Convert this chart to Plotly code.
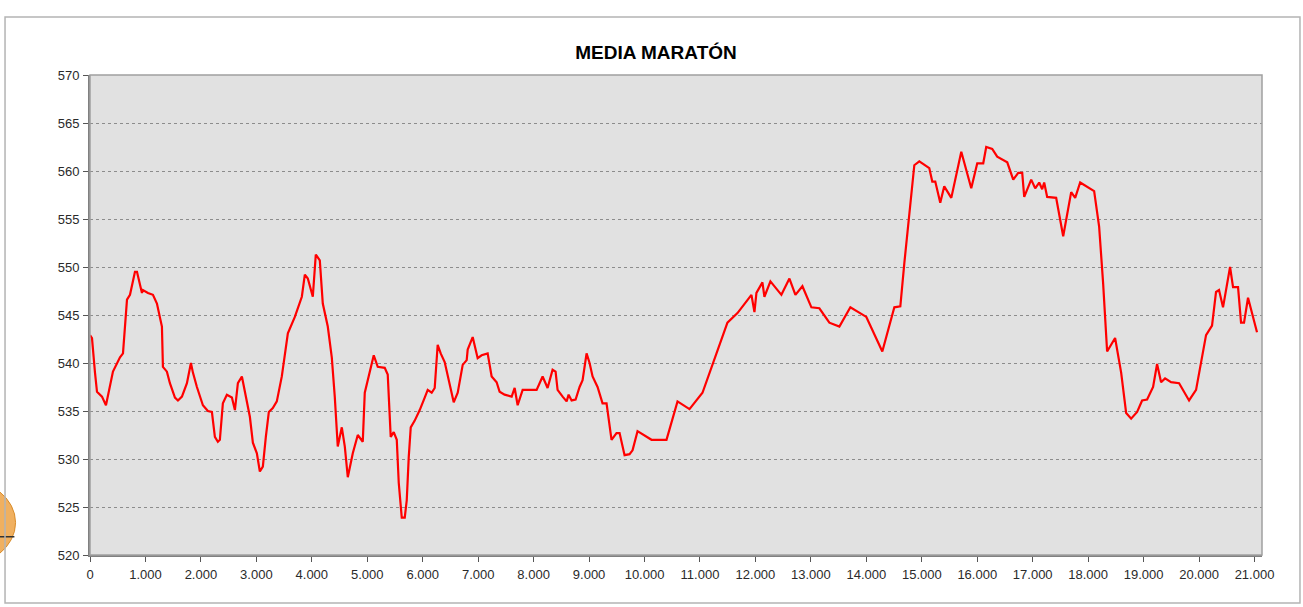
import plotly.graph_objects as go

distance_m = [0, 36, 90, 126, 216, 288, 414, 541, 595, 667, 721, 811, 847, 937, 955, 1045, 1135, 1207, 1297, 1315,
              1387, 1441, 1532, 1586, 1658, 1748, 1820, 1856, 1928, 2036, 2126, 2198, 2252, 2306, 2342, 2396, 2468, 2559, 2613, 2667,
              2739, 2793, 2883, 2937, 3009, 3063, 3117, 3171, 3225, 3297, 3369, 3459, 3568, 3694, 3748, 3820, 3874, 3928, 4018, 4072,
              4144, 4198, 4288, 4360, 4414, 4468, 4541, 4595, 4649, 4739, 4829, 4919, 4955, 5045, 5117, 5189, 5315, 5369, 5387, 5423,
              5477, 5532, 5568, 5622, 5676, 5712, 5748, 5784, 5856, 5946, 6036, 6090, 6162, 6216, 6270, 6324, 6396, 6486, 6559, 6631,
              6721, 6793, 6811, 6901, 6955, 6991, 7063, 7171, 7243, 7333, 7387, 7477, 7604, 7658, 7712, 7802, 8054, 8162, 8252, 8342,
              8396, 8432, 8523, 8595, 8631, 8685, 8757, 8829, 8883, 8955, 9009, 9063, 9153, 9243, 9315, 9405, 9495, 9550, 9640, 9730,
              9784, 9874, 10126, 10396, 10595, 10811, 11045, 11261, 11495, 11676, 11802, 11928, 11982, 12018, 12126, 12162, 12270, 12468, 12613, 12721,
              12847, 13009, 13153, 13333, 13514, 13712, 14000, 14288, 14505, 14613, 14685, 14775, 14865, 14955, 15135, 15189, 15243, 15333, 15405, 15532,
              15712, 15892, 16000, 16108, 16162, 16270, 16360, 16541, 16649, 16739, 16811, 16847, 16973, 17045, 17117, 17171, 17207, 17261, 17423, 17550,
              17694, 17766, 17856, 18108, 18198, 18270, 18342, 18486, 18595, 18685, 18775, 18883, 18973, 19063, 19171, 19243, 19315, 19387, 19495, 19640,
              19820, 19946, 20126, 20234, 20306, 20360, 20432, 20559, 20613, 20703, 20757, 20811, 20883, 21045]

altitude_m = [542.9, 542.6, 539.0, 537.0, 536.5, 535.6, 539.1, 540.6, 541.0, 546.6, 547.1, 549.5, 549.5, 547.3, 547.6, 547.3, 547.1, 546.2, 543.8, 539.6,
              539.1, 537.9, 536.4, 536.1, 536.5, 537.9, 540.0, 539.0, 537.5, 535.6, 535.0, 534.9, 532.3, 531.8, 532.0, 535.8, 536.7, 536.4, 535.1, 537.9,
              538.6, 537.0, 534.4, 531.7, 530.6, 528.7, 529.2, 532.3, 534.9, 535.3, 536.0, 538.6, 543.1, 544.8, 545.8, 546.9, 549.2, 548.8, 546.9, 551.3,
              550.7, 546.2, 543.8, 540.6, 536.5, 531.3, 533.3, 531.3, 528.1, 530.6, 532.5, 531.8, 536.9, 539.0, 540.8, 539.6, 539.5, 538.8, 536.1, 532.3,
              532.8, 532.0, 527.5, 523.9, 523.9, 525.7, 530.2, 533.3, 534.0, 535.1, 536.4, 537.2, 536.9, 537.4, 541.9, 541.0, 540.1, 537.9, 535.9, 536.9,
              539.8, 540.3, 541.4, 542.7, 541.4, 540.5, 540.8, 541.0, 538.6, 538.0, 537.0, 536.7, 536.5, 537.4, 535.6, 537.2, 537.2, 538.6, 537.4, 539.3,
              539.1, 537.2, 536.5, 536.0, 536.7, 536.1, 536.2, 537.5, 538.2, 541.0, 540.0, 538.6, 537.5, 535.8, 535.8, 532.0, 532.7, 532.7, 530.4, 530.5,
              530.9, 532.9, 532.0, 532.0, 536.0, 535.2, 536.9, 540.3, 544.2, 545.2, 546.2, 547.1, 545.3, 547.3, 548.4, 546.9, 548.5, 547.1, 548.8, 547.1,
              548.0, 545.8, 545.7, 544.2, 543.8, 545.8, 544.8, 541.2, 545.8, 545.9, 550.4, 555.9, 560.6, 561.0, 560.3, 558.9, 558.9, 556.7, 558.4, 557.2,
              562.0, 558.2, 560.8, 560.8, 562.5, 562.3, 561.5, 560.9, 559.1, 559.8, 559.8, 557.3, 559.1, 558.2, 558.8, 558.1, 558.8, 557.3, 557.2, 553.2,
              557.8, 557.2, 558.8, 557.9, 554.2, 548.3, 541.2, 542.6, 539.0, 534.8, 534.2, 534.9, 536.1, 536.2, 537.5, 539.9, 538.0, 538.4, 538.0, 537.9,
              536.1, 537.2, 542.9, 543.9, 547.4, 547.6, 545.8, 550.0, 547.9, 547.9, 544.2, 544.2, 546.8, 543.2]

x_tick_values = list(range(0, 21001, 1000))
x_tick_labels = ["0", "1.000", "2.000", "3.000", "4.000", "5.000", "6.000", "7.000", "8.000", "9.000", "10.000",
                 "11.000", "12.000", "13.000", "14.000", "15.000", "16.000", "17.000", "18.000", "19.000", "20.000", "21.000"]
y_tick_values = [520, 525, 530, 535, 540, 545, 550, 555, 560, 565, 570]
title_text = "MEDIA MARATÓN"

fig = go.Figure()
fig.add_trace(go.Scatter(x=distance_m, y=altitude_m, mode="lines",
                         line=dict(color="#ff0000", width=2.2), showlegend=False, hoverinfo="x+y"))

fig.update_layout(
    width=1303, height=607,
    margin=dict(l=90, r=41, t=75, b=52),
    paper_bgcolor="white",
    plot_bgcolor="#e1e1e1",
    font=dict(family="Liberation Sans, Arial, sans-serif", size=13, color="#2a2a2a"),
    title=dict(text="<b>" + title_text + "</b>", x=(656 - 90) / 1172, xanchor="center", xref="paper",
               y=1 - 52 / 607, yanchor="middle", yref="container",
               font=dict(size=19, color="#000000", family="Liberation Sans, Arial, sans-serif")),
    xaxis=dict(range=[0, 21135], tickmode="array", tickvals=x_tick_values, ticktext=x_tick_labels,
               showgrid=False, zeroline=False, showline=True, linecolor="#808080", linewidth=2,
               ticks="outside", ticklen=5, tickcolor="#555555", mirror=False, ticklabelstandoff=1),
    yaxis=dict(range=[520, 570], tickmode="array", tickvals=y_tick_values,
               showgrid=True, gridcolor="#8c8c8c", griddash="dot", gridwidth=1,
               zeroline=False, showline=True, linecolor="#808080", linewidth=2,
               ticks="outside", ticklen=5, tickcolor="#555555", ticklabelstandoff=1),
    shapes=[
        dict(type="rect", xref="paper", yref="paper", x0=0, x1=1, y0=0, y1=1,
             line=dict(color="#a0a0a0", width=1.5), fillcolor="rgba(0,0,0,0)", layer="above"),
        dict(type="circle", xref="paper", yref="paper", x0=-0.16, x1=-0.0635, y0=-0.025, y1=0.16,
             line=dict(color="#d98c2a", width=1), fillcolor="#f0b060"),
        dict(type="line", xref="paper", yref="paper", x0=-0.0768, x1=-0.0645, y0=0.038, y1=0.038,
             line=dict(color="#333333", width=1.5)),
        dict(type="rect", xref="paper", yref="paper", x0=-0.0725, x1=1.0324, y0=-0.1, y1=1.121,
             line=dict(color="#b4b4b4", width=1.5), fillcolor="rgba(0,0,0,0)"),
    ],
)

fig.write_html("out.html", config={"displayModeBar": False},
               post_script="document.body.style.margin='0px';")
